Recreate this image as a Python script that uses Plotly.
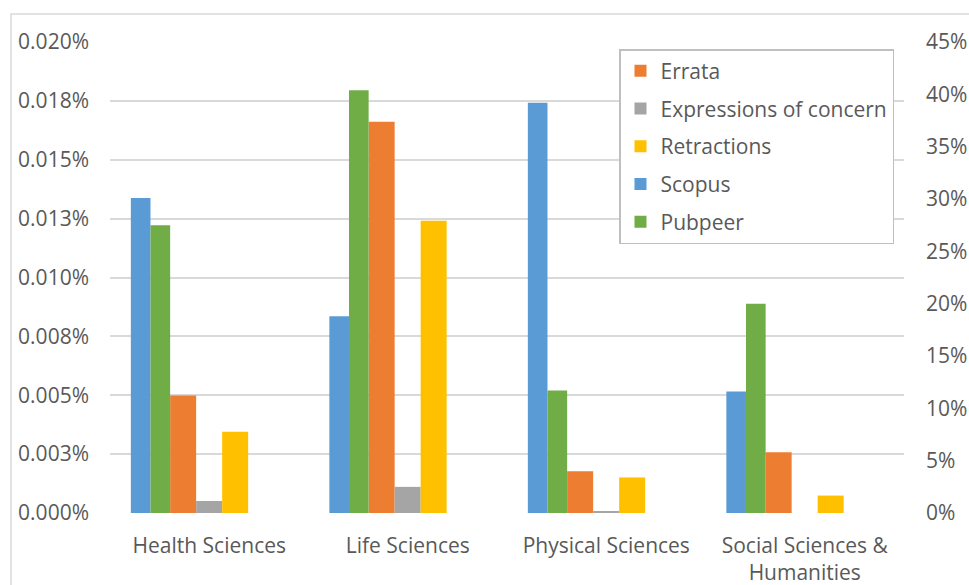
import plotly.graph_objects as go

# Disciplines on the category axis
categories = ["Health Sciences", "Life Sciences", "Physical Sciences",
              "Social Sciences &<br>Humanities"]

# Left axis series (percent of publications)
errata = [0.00499, 0.01661, 0.00177, 0.00258]
expressions_of_concern = [0.00051, 0.00111, 0.00008, 0.0]
retractions = [0.00345, 0.01241, 0.00151, 0.00074]

# Right axis series (percent share)
scopus = [30.1, 18.8, 39.2, 11.6]
pubpeer = [27.5, 40.4, 11.7, 20.0]

left_tickvals = [0, 0.0025, 0.005, 0.0075, 0.01, 0.0125, 0.015, 0.0175, 0.02]
left_ticktext = ["0.000%", "0.003%", "0.005%", "0.008%", "0.010%",
                 "0.013%", "0.015%", "0.018%", "0.020%"]
right_tickvals = [0, 5, 10, 15, 20, 25, 30, 35, 40, 45]
right_ticktext = [f"{v}%" for v in right_tickvals]

W, H = 969, 585
ML, MR, MT, MB = 110, 65, 42, 72
PW, PH = W - ML - MR, H - MT - MB

TEXT = "#595959"
GRID = "#D9D9D9"
FONT = "Open Sans"
FS = 21

fig = go.Figure()

# (name, values, colour, axis, offset, width) – offsets in category units
series = [
    ("Errata", errata, "#ED7D31", "y", -0.197, 0.131),
    ("Expressions of concern", expressions_of_concern, "#A5A5A5", "y", -0.066, 0.131),
    ("Retractions", retractions, "#FFC000", "y", 0.065, 0.131),
    ("Scopus", scopus, "#5B9BD5", "y2", -0.395, 0.099),
    ("Pubpeer", pubpeer, "#70AD47", "y2", -0.296, 0.099),
]

for name, vals, color, axis, off, wid in series:
    fig.add_trace(go.Bar(
        x=categories, y=vals, name=name, yaxis=axis,
        marker=dict(color=color, line=dict(width=0)),
        offset=off, width=[wid] * len(categories),
        legendgroup=name,
    ))

def px_to_paper_x(px):
    return (px - ML) / PW

def px_to_paper_y(py):
    return (H - MB - py) / PH

fig.update_layout(
    width=W, height=H,
    margin=dict(l=ML, r=MR, t=MT, b=MB, autoexpand=False),
    paper_bgcolor="white", plot_bgcolor="white",
    barmode="overlay",
    font=dict(family=FONT, size=FS, color=TEXT),
    xaxis=dict(
        type="category", range=[-0.5, 3.5], automargin=False,
        showgrid=False, zeroline=False, showline=False,
        ticks="", ticklabelstandoff=18,
        tickfont=dict(size=FS, color=TEXT),
    ),
    yaxis=dict(
        range=[0, 0.02], tickvals=left_tickvals, ticktext=left_ticktext,
        automargin=False,
        showgrid=True, gridcolor=GRID, gridwidth=1.5,
        zeroline=False, showline=False, ticks="",
        ticklabelstandoff=20,
        tickfont=dict(size=FS, color=TEXT),
    ),
    yaxis2=dict(
        range=[0, 45], tickvals=right_tickvals, ticktext=right_ticktext,
        overlaying="y", side="right", automargin=False,
        showgrid=False, zeroline=False, showline=False, ticks="",
        ticklabelstandoff=21,
        tickfont=dict(size=FS, color=TEXT),
    ),
    legend=dict(
        x=px_to_paper_x(619), y=px_to_paper_y(49),
        xanchor="left", yanchor="top",
        bgcolor="white", bordercolor="#BFBFBF", borderwidth=1.5,
        traceorder="grouped", tracegroupgap=7.5,
        font=dict(size=FS, color=TEXT),
    ),
    shapes=[dict(
        type="rect", xref="paper", yref="paper",
        x0=px_to_paper_x(11), x1=px_to_paper_x(W + 10),
        y0=px_to_paper_y(H + 10), y1=px_to_paper_y(14),
        line=dict(color=GRID, width=1.5), fillcolor="rgba(0,0,0,0)",
        layer="below",
    )],
)

fig.write_html("out.html")
